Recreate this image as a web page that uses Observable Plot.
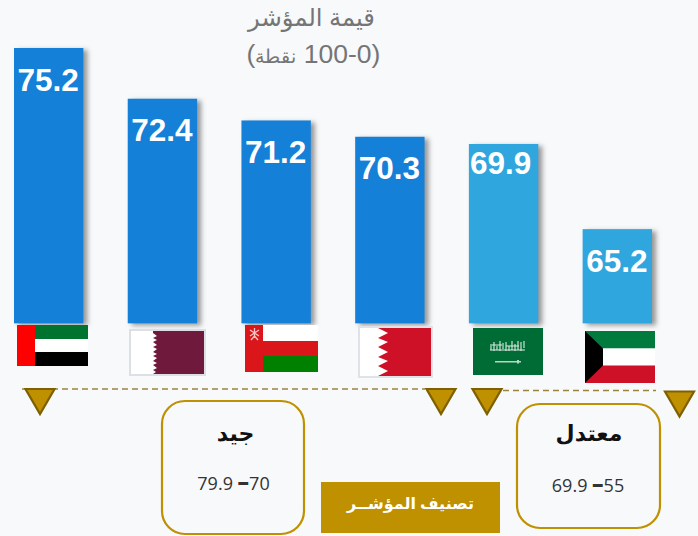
<!DOCTYPE html>
<html><head><meta charset="utf-8">
<script src="https://cdn.jsdelivr.net/npm/d3@7"></script>
<script src="https://cdn.jsdelivr.net/npm/@observablehq/plot@0.6"></script>
<style>
html,body{margin:0;padding:0;background:#f8f9fb;}
svg{display:block;}
</style></head><body>
<div id="chart"></div>
<script>
const countries = ["UAE","Qatar","Oman","Bahrain","Saudi","Kuwait"];
const values = [75.2,72.4,71.2,70.3,69.9,65.2];
const valueLabels = ["75.2","72.4","71.2","70.3","69.9","65.2"];
const barColors = ["#1580d8","#1580d8","#1580d8","#1580d8","#2fa6de","#2fa6de"];
const titleLines = ["قيمة المؤشر","100-0","نقطة"];
const bandNames = ["جيد","معتدل"];
const bandRanges = [["79.9","70"],["69.9","55"]];
const classTitle = "تصنيف المؤشــر";

const table = countries.map((c,i)=>({c,v:values[i],label:valueLabels[i],color:barColors[i]}));
const gold="#bf9000", goldDark="#7f6000";
const arabic='"Noto Sans","DejaVu Sans",sans-serif';

function decor(index, scales, values_, dims, context){
  const g=d3.create("svg:g");
  const rect=(x,y,w,h,fill,extra={})=>{const r=g.append("rect").attr("x",x).attr("y",y).attr("width",w).attr("height",h).attr("fill",fill);for(const k in extra)r.attr(k,extra[k]);return r;};
  const poly=(pts,fill,extra={})=>{const r=g.append("polygon").attr("points",pts).attr("fill",fill);for(const k in extra)r.attr(k,extra[k]);return r;};
  // UAE
  rect(17,325,18,41,"#ff0000");rect(35,325,53,14,"#00732f");rect(35,339,53,13,"#fff");rect(35,352,53,14,"#000");
  // Qatar
  rect(129,329,77,47,"#dcdfe3");rect(131,331,73,43,"#fff");
  poly("153,331 204,331 204,374 153,374 156,372 153,370 157,368 153,365 157,363 153,361 157,358 153,356 157,354 153,352 157,349 153,347 157,345 153,342 157,340 153,338 157,336 153,333","#6f1a3c");
  // Oman
  rect(245,325,73,47,"#db161b");rect(263,325,55,16,"#fff");rect(263,356,55,16,"#008000");
  g.append("path").attr("d","M250 336L259 330M250 330L259 336M254.5 328V338M251 340L254.5 336L258 340").attr("stroke","#f3c5c5").attr("stroke-width",1.3).attr("fill","none");
  // Bahrain
  rect(358,326,75,52,"#dfe2e6");rect(360,328,71,48,"#fff");
  poly("378,328 431,328 431,376 378,376 388,371 378,366 388,361 378,357 388,352 378,347 388,342 378,338 388,333","#ce1126");
  // Saudi
  rect(473,328,70,47,"#006c35");
  g.append("path").attr("d","M491 344V350M494 342V351M497 346V350M500 341V351M503 343V349M506 342V351M509 346V351M512 341V350M515 344V351M518 341V350M521 342V351M524 341V348M490 350H525M492 345H502M506 346H519").attr("stroke","#dcebe2").attr("stroke-width",1.1).attr("fill","none");
  rect(495,361,26,1.5,"#b9d6c4");rect(517,360,2,3.5,"#b9d6c4");
  // Kuwait
  rect(585,331,70,17.5,"#007a3d");rect(585,348.5,70,17,"#fff");rect(585,365.5,70,17.5,"#ce1126");
  poly("585,331 603,348.5 603,365.5 585,383","#000");
  // dashed divider
  g.append("line").attr("x1",22).attr("x2",425).attr("y1",389).attr("y2",389).attr("stroke","#9a8440").attr("stroke-width",1.3).attr("stroke-dasharray","6 4");
  g.append("line").attr("x1",503).attr("x2",656).attr("y1",390.5).attr("y2",390.5).attr("stroke","#9a8440").attr("stroke-width",1.3).attr("stroke-dasharray","6 4");
  // triangles
  const tri=(cx,top)=>poly(`${cx-14.5},${top} ${cx+14.5},${top} ${cx},${top+25}`,gold,{stroke:goldDark,"stroke-width":2.2});
  tri(40,389);tri(441,389);tri(487,389);tri(679.5,391.5);
  // boxes
  rect(162,401,142,133,"none",{rx:23,stroke:gold,"stroke-width":2.2});
  rect(517,404,143,124,"none",{rx:23,stroke:gold,"stroke-width":2.2});
  rect(321,482,179,51,gold);
  // range text with a heavier dash
  const range=(cx,y,p)=>{const t=g.append("text").attr("x",cx).attr("y",y).attr("text-anchor","middle").attr("direction","ltr").attr("font-family",'"Open Sans",sans-serif').attr("font-size",18).attr("fill","#333");
    t.append("tspan").text(p[0]+" ");t.append("tspan").attr("font-weight",800).attr("font-size",23).text("–");t.append("tspan").text(p[1]);};
  range(233.5,490,bandRanges[0]);range(588,492,bandRanges[1]);
  // subtitle: digits larger than the Arabic word
  const s=g.append("text").attr("x",313.5).attr("y",62.5).attr("text-anchor","middle").attr("direction","rtl").attr("font-family",'"Liberation Sans",sans-serif').attr("font-size",26.5).attr("fill","#757575");
  s.append("tspan").text("("+titleLines[1]+" ");s.append("tspan").attr("font-size",19).text(titleLines[2]);s.append("tspan").text(")");
  return g.node();
}

const label = {frameAnchor:"top-left",lineAnchor:"middle",textAnchor:"middle"};
const chart = Plot.plot({
  width:698,height:536,margin:0,
  style:{background:"transparent"},
  x:{type:"band",domain:countries,range:[14,652],paddingInner:0.39,paddingOuter:0,round:false,axis:null},
  y:{domain:[48.26,77.85],range:[536,0],axis:null},
  marks:[
    Plot.rectY(table,{x:"c",y1:()=>60,y2:"v",fill:"color",imageFilter:"drop-shadow(4px 2px 2.5px rgba(70,70,70,.55))"}),
    Plot.text(table.filter(d=>d.v!==69.9),{x:"c",y:"v",text:"label",dy:32,dx:-1,fill:"#fff",fontWeight:"bold",fontSize:31.5,fontFamily:'"Liberation Sans",Arial,sans-serif'}),
    Plot.text(table.filter(d=>d.v===69.9),{x:"c",y:"v",text:"label",dy:19,dx:-3.5,fill:"#fff",fontWeight:"bold",fontSize:31.5,fontFamily:'"Liberation Sans",Arial,sans-serif'}),
    decor,
    Plot.text([titleLines[0]],{...label,text:d=>d,dx:311,dy:18,fontSize:24.3,fill:"#757575",fontFamily:arabic}),
    Plot.text([bandNames[0]],{...label,text:d=>d,dx:235,dy:433,fontSize:22,fontWeight:"bold",fill:"#111",fontFamily:arabic}),
    Plot.text([bandNames[1]],{...label,text:d=>d,dx:588.5,dy:433,fontSize:22,fontWeight:"bold",fill:"#111",fontFamily:arabic}),
    Plot.text([classTitle],{...label,text:d=>d,dx:410,dy:503,fontSize:16,fontWeight:"bold",fill:"#fff",fontFamily:arabic})
  ]
});
document.getElementById("chart").append(chart);
</script>
</body></html>
